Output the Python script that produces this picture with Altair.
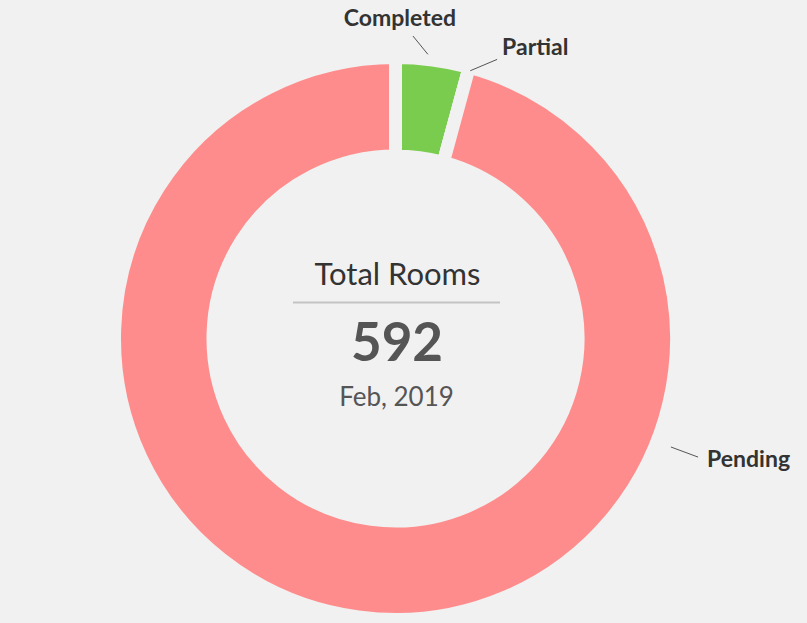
import math
import altair as alt
import pandas as pd

# ---- data ----
statuses = ["Completed", "Partial", "Pending"]
rooms = [25, 0, 567]
colors = ["#7acc4e", "#7acc4e", "#ff8c8c"]
total_label = "Total Rooms"
total_value = "592"
period = "Feb, 2019"

# ---- layout (not data) ----
W, H = 807, 623
CX, CY = 395.5, 338.5
BG = "#f1f1f1"
# connector: angle (deg, clockwise from top), inner radius, outer radius
conn_angle = [6.5, 15.6, 111.5]
conn_r1 = [286, 278, 296]
conn_angle2 = [3.3, 20.0, 111.4]
conn_r2 = [303, 297, 325]
# text anchor offsets from connector outer end
text_dx = [-13, 5, 9]
text_dy = [-10, -4, 10]
text_align = ["center", "left", "left"]

df = pd.DataFrame({"status": statuses, "rooms": rooms, "idx": list(range(len(statuses)))})

arc = alt.Chart(df).mark_arc(
    outerRadius=281, innerRadius=182.5, stroke=BG, strokeWidth=13
).encode(
    theta=alt.Theta("rooms:Q", stack=True),
    color=alt.Color("status:N", scale=alt.Scale(domain=statuses, range=colors), legend=None),
    order=alt.Order("idx:Q"),
    x=alt.value(CX),
    y=alt.value(CY),
)

lab = pd.DataFrame({
    "status": statuses,
    "a1": conn_angle, "r1": conn_r1, "a2": conn_angle2, "r2": conn_r2,
    "tdx": text_dx, "tdy": text_dy, "align": text_align,
})
base_lab = alt.Chart(lab).transform_calculate(
    x1=f"{CX} + datum.r1 * sin(datum.a1 * PI / 180)",
    y1=f"{CY} - datum.r1 * cos(datum.a1 * PI / 180)",
    x2=f"{CX} + datum.r2 * sin(datum.a2 * PI / 180)",
    y2=f"{CY} - datum.r2 * cos(datum.a2 * PI / 180)",
).transform_calculate(
    tx="datum.x2 + datum.tdx",
    ty="datum.y2 + datum.tdy",
)

connectors = base_lab.mark_rule(color="#555555", strokeWidth=1).encode(
    x=alt.X("x1:Q", scale=None, axis=None),
    y=alt.Y("y1:Q", scale=None, axis=None),
    x2="x2:Q",
    y2="y2:Q",
)

def lab_text(name, align):
    return base_lab.transform_filter(alt.datum.status == name).mark_text(
        font="Lato", fontSize=23, fontWeight="bold", color="#333333",
        align=align, baseline="alphabetic",
    ).encode(
        x=alt.X("tx:Q", scale=None, axis=None),
        y=alt.Y("ty:Q", scale=None, axis=None),
        text="status:N",
    )

labels = [lab_text(s, a) for s, a in zip(statuses, text_align)]

t1 = alt.Chart(pd.DataFrame({"t": [total_label]})).mark_text(
    font="Lato", fontSize=31, color="#333333", align="center", baseline="alphabetic"
).encode(x=alt.value(CX + 2), y=alt.value(285), text="t:N")

sep = alt.Chart(pd.DataFrame({"t": [total_label]})).mark_rule(color="#c4c4c4", strokeWidth=2).encode(
    x=alt.value(293), x2=alt.value(500), y=alt.value(302.5)
)

t2 = alt.Chart(pd.DataFrame({"t": [total_value]})).mark_text(
    font="Lato", fontSize=53, fontWeight="bold", color="#555555", align="center", baseline="alphabetic"
).encode(x=alt.value(CX + 1.5), y=alt.value(361), text="t:N")

t3 = alt.Chart(pd.DataFrame({"t": [period]})).mark_text(
    font="Lato", fontSize=26, color="#555555", align="center", baseline="alphabetic"
).encode(x=alt.value(CX + 1), y=alt.value(406), text="t:N")

chart = alt.layer(arc, connectors, *labels, t1, sep, t2, t3).properties(
    width=W, height=H, background=BG, padding=0, autosize=alt.AutoSizeParams(type="none")
).configure_view(stroke=None)

chart.save("out.html", embed_options={"renderer": "svg", "actions": False})
